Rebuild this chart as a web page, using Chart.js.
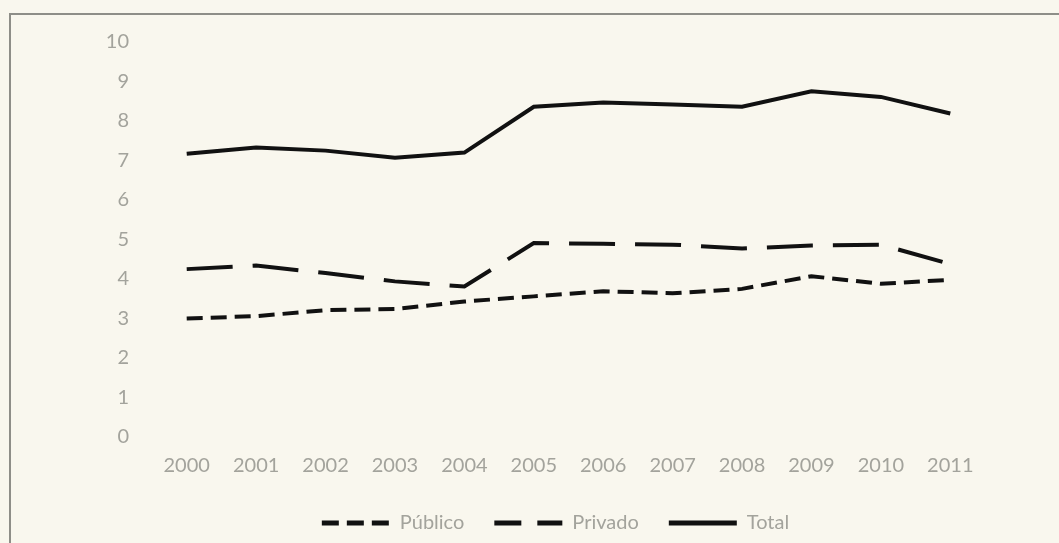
<!DOCTYPE html>
<html>
<head>
<meta charset="utf-8">
<script src="https://cdn.jsdelivr.net/npm/chart.js@4"></script>
<style>
  html, body { margin: 0; padding: 0; background: #f9f7ee; }
  #wrap { width: 1059px; height: 543px; position: relative; }
</style>
</head>
<body>
<div id="wrap"><canvas id="chart"></canvas></div>
<script>
const years = ['2000', '2001', '2002', '2003', '2004', '2005', '2006', '2007', '2008', '2009', '2010', '2011'];
const publico = [3.0, 3.06, 3.21, 3.24, 3.43, 3.56, 3.69, 3.64, 3.75, 4.07, 3.88, 3.98];
const privado = [4.25, 4.34, 4.15, 3.94, 3.81, 4.91, 4.89, 4.87, 4.77, 4.85, 4.87, 4.38];
const total = [7.17, 7.33, 7.25, 7.07, 7.2, 8.36, 8.47, 8.42, 8.36, 8.75, 8.61, 8.19];

const textColor = '#a3a39c';
const legendDash = [[17, 8], [27, 16], []];

// paper background and the frame round the chart
const paper = {
  id: 'paper',
  beforeDraw(chart) {
    const ctx = chart.ctx;
    ctx.save();
    ctx.fillStyle = '#f9f7ee';
    ctx.fillRect(0, 0, chart.width, chart.height);
    ctx.strokeStyle = '#8e8e88';
    ctx.lineWidth = 2;
    ctx.strokeRect(10, 14, chart.width + 20, chart.height + 20);
    ctx.restore();
  }
};

// the legend sits a bit right of the layout centre
const legendShift = {
  id: 'legendShift',
  afterLayout(chart) {
    chart.legend.left += 17;
    chart.legend.right += 17;
  }
};

new Chart(document.getElementById('chart'), {
  type: 'line',
  data: {
    labels: years,
    datasets: [
      { label: 'Público', data: publico, borderColor: '#111', borderWidth: 4, borderDash: [16, 8], pointRadius: 0, tension: 0 },
      { label: 'Privado', data: privado, borderColor: '#111', borderWidth: 4, borderDash: [46, 20], pointRadius: 0, tension: 0 },
      { label: 'Total', data: total, borderColor: '#111', borderWidth: 4, pointRadius: 0, tension: 0 }
    ]
  },
  options: {
    responsive: true,
    maintainAspectRatio: false,
    animation: false,
    layout: { padding: { top: 42, left: 92, right: 74, bottom: 0 } },
    plugins: {
      tooltip: { enabled: false },
      legend: {
        position: 'bottom',
        labels: {
          color: textColor,
          font: { family: 'Lato', size: 20 },
          usePointStyle: true,
          pointStyle: 'line',
          pointStyleWidth: 68,
          padding: 30,
          generateLabels(chart) {
            const items = Chart.defaults.plugins.legend.labels.generateLabels(chart);
            items.forEach((it, i) => {
              it.lineDash = legendDash[i];
              it.pointStyle = 'line';
              it.lineWidth = 5;
              it.strokeStyle = '#111';
            });
            return items;
          }
        }
      }
    },
    scales: {
      x: {
        offset: true,
        grid: { display: false },
        border: { display: false },
        ticks: { color: textColor, font: { family: 'Lato', size: 20 }, padding: 9, maxRotation: 0 },
        afterFit(scale) { scale.height = 46; }
      },
      y: {
        min: 0,
        max: 10,
        grid: { display: false },
        border: { display: false },
        ticks: { stepSize: 1, color: textColor, font: { family: 'Lato', size: 20 }, padding: 15 },
        afterFit(scale) { scale.width = 60; }
      }
    }
  },
  plugins: [paper, legendShift]
});
</script>
</body>
</html>
